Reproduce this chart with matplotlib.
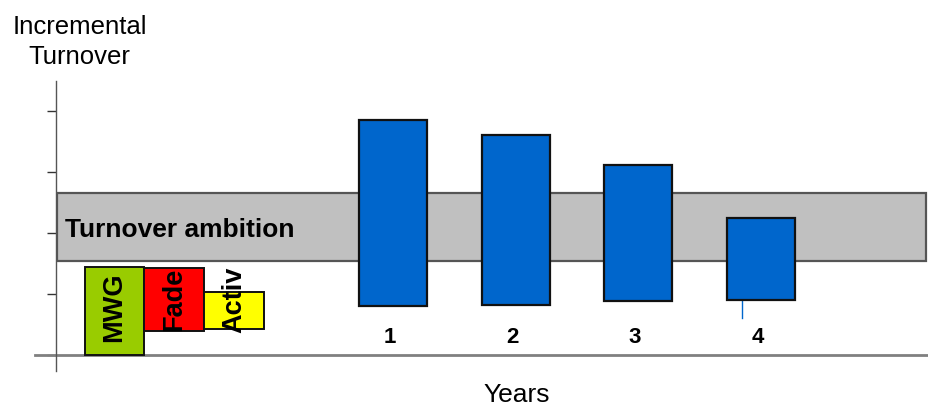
import matplotlib
matplotlib.use("Agg")
import matplotlib.pyplot as plt
import numpy as np

plt.rcParams['font.family'] = ['Liberation Sans', 'DejaVu Sans']

# Contributions of existing activities (floating bars)
drivers = ["MWG", "Fade", "Activ"]
driver_top = [1.44, 1.43, 1.03]
driver_bottom = [0.00, 0.39, 0.43]
driver_colors = ["#99CC00", "#FF0000", "#FFFF00"]

# Incremental turnover per year (floating bars)
years = ["1", "2", "3", "4"]
year_top = [3.85, 3.61, 3.12, 2.25]
year_bottom = [0.80, 0.82, 0.89, 0.90]

# Target corridor
ambition_low = 1.54
ambition_high = 2.66
ambition_label = "Turnover ambition"

y_ticks = [0, 1, 2, 3, 4]

# layout
driver_x = np.array([0.0, 1.0, 2.0])
year_x = np.array([4.66, 6.72, 8.76, 10.82])

fig = plt.figure(figsize=(9.29, 4.17), dpi=100)
ax = fig.add_axes([56 / 929, (417 - 371) / 417, 873 / 929, 290 / 417])
ax.set_xlim(-0.979, 13.63)
ax.set_ylim(-0.262, 4.492)

# ambition band
ax.axhspan(ambition_low, ambition_high, xmin=0.001, xmax=0.9966,
           facecolor="#C0C0C0", edgecolor="#555555", linewidth=1.6, zorder=1)
ax.text(-0.83, ambition_low + 0.39, ambition_label, fontsize=19, fontweight="bold",
        ha="left", va="baseline", zorder=5)

# yearly bars
yt = np.array(year_top)
yb = np.array(year_bottom)
ax.bar(year_x, yt - yb, bottom=yb, width=1.14, color="#0066CC",
       edgecolor="#111111", linewidth=1.6, zorder=3)
for x, lab in zip(year_x, years):
    ax.text(x - 0.06, 0.197, lab, fontsize=16, fontweight="bold",
            ha="center", va="baseline", zorder=5)
# small leader line under the last bar
ax.plot([year_x[-1] - 0.32] * 2, [yb[-1], yb[-1] - 0.3], color="#0066CC",
        linewidth=1.0, zorder=2)

# driver bars
dt = np.array(driver_top)
db = np.array(driver_bottom)
ax.bar(driver_x, dt - db, bottom=db, width=1.0, color=driver_colors,
       edgecolor="#111111", linewidth=1.4, zorder=3)
fade_mid = (dt[1] + db[1]) / 2
label_y = [(dt[0] + db[0]) / 2 + 0.06, fade_mid, fade_mid]
for x, y, lab in zip(driver_x, label_y, drivers):
    ax.text(x, y, lab, fontsize=19.5, fontweight="bold", rotation=90,
            ha="center", va="center", zorder=5)

# axes styling
for side in ("top", "right", "bottom"):
    ax.spines[side].set_visible(False)
ax.spines["left"].set_color("#555555")
ax.spines["left"].set_linewidth(1.0)
ax.axhline(0, xmin=-0.024, xmax=1.0, color="#808080", linewidth=2.0,
           clip_on=False, zorder=2)
ax.set_yticks(y_ticks)
ax.set_yticklabels([])
ax.tick_params(axis="y", length=6.5, width=1.0, color="#333333", direction="out")
ax.set_xticks([])

fig.text(79.5 / 929, 1 - 15 / 417, "Incremental\nTurnover", fontsize=18.5,
         ha="center", va="top", linespacing=1.3)
fig.text(517 / 929, (417 - 402) / 417, "Years", fontsize=19,
         ha="center", va="baseline")

fig.savefig("out.png", dpi=100)
